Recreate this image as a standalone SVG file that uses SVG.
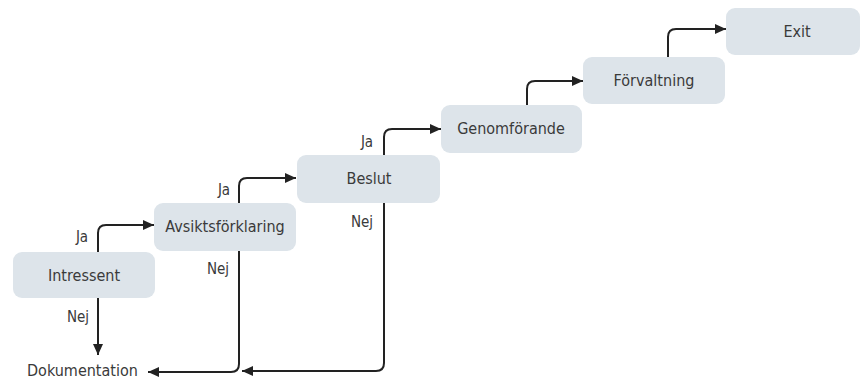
<svg xmlns="http://www.w3.org/2000/svg" width="861" height="380" viewBox="0 0 861 380">
<defs>
<style>
.box{fill:#dde4ea;}
.t{font-family:"DejaVu Sans Condensed","DejaVu Sans",sans-serif;font-size:16px;fill:#3a3a3a;dominant-baseline:central;text-anchor:middle;}
.lbl{font-family:"DejaVu Sans Condensed","DejaVu Sans",sans-serif;font-size:15px;fill:#3a3a3a;dominant-baseline:central;text-anchor:middle;}
.c{fill:none;stroke:#222;stroke-width:2;marker-end:url(#arr);}
</style>
<marker id="arr" markerUnits="userSpaceOnUse" markerWidth="12" markerHeight="10" refX="11" refY="5" orient="auto">
<path d="M0,0 L11,5 L0,10 z" fill="#222"/>
</marker>
</defs>
<rect width="861" height="380" fill="#ffffff"/>
<g id="connectors">
<path class="c" d="M98,252 V233 Q98,225 106,225 H154"/>
<path class="c" d="M98,298 V355"/>
<path class="c" d="M239,203 V186 Q239,178 247,178 H296"/>
<path class="c" d="M239,251 V364 Q239,372 231,372 H148"/>
<path class="c" d="M384,155 V137 Q384,129 392,129 H441"/>
<path class="c" d="M384,203 V363 Q384,371 376,371 H242"/>
<path class="c" d="M527,105 V89 Q527,81 535,81 H583"/>
<path class="c" d="M668,57 V37 Q668,29 676,29 H726"/>
<text class="lbl" x="82" y="237">Ja</text>
<text class="lbl" x="78" y="317">Nej</text>
<text class="lbl" x="224" y="190">Ja</text>
<text class="lbl" x="218" y="269">Nej</text>
<text class="lbl" x="367" y="142">Ja</text>
<text class="lbl" x="362" y="222">Nej</text>
</g>
<g id="intressent"><rect class="box" x="13" y="252" width="142" height="46" rx="9"/><text class="t" x="84" y="275">Intressent</text></g>
<g id="avsiktsforklaring"><rect class="box" x="154" y="203" width="142" height="48" rx="9"/><text class="t" x="225" y="226">Avsiktsförklaring</text></g>
<g id="beslut"><rect class="box" x="297" y="155" width="143" height="48" rx="9"/><text class="t" x="369" y="178">Beslut</text></g>
<g id="genomforande"><rect class="box" x="441" y="105" width="141" height="48" rx="9"/><text class="t" x="511" y="128">Genomförande</text></g>
<g id="forvaltning"><rect class="box" x="583" y="57" width="142" height="47" rx="9"/><text class="t" x="654" y="80">Förvaltning</text></g>
<g id="exit"><rect class="box" x="726" y="8" width="134" height="47" rx="9"/><text class="t" x="797" y="31">Exit</text></g>
<g id="dokumentation"><text class="t" x="27" y="370" style="text-anchor:start">Dokumentation</text></g>
</svg>
